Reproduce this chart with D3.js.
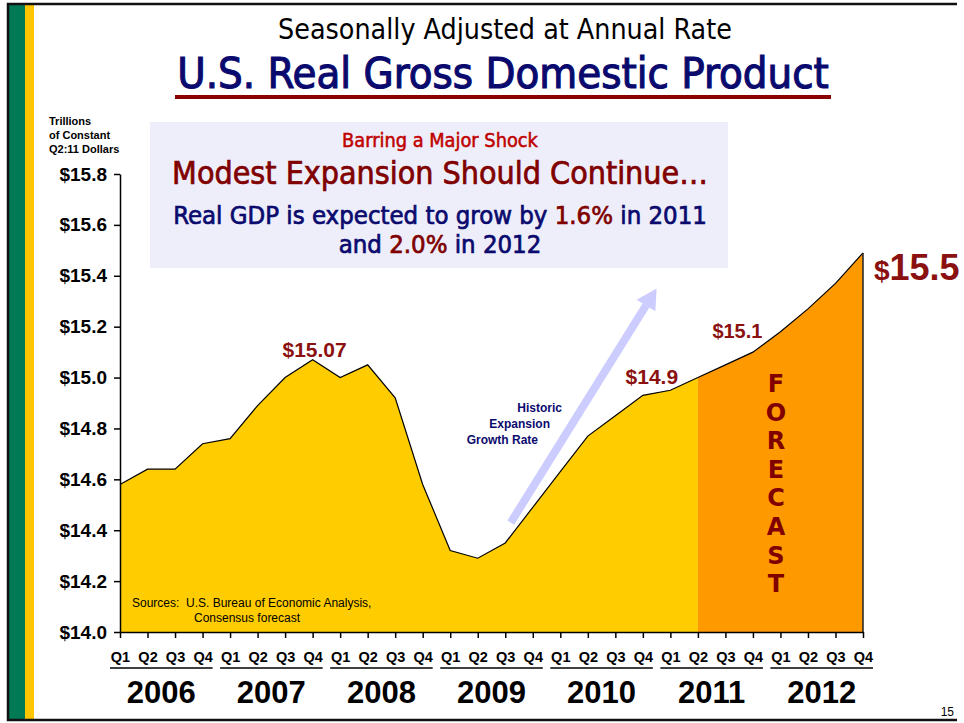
<!DOCTYPE html>
<html>
<head>
<meta charset="utf-8">
<script src="https://cdn.jsdelivr.net/npm/d3@7"></script>
<style>
  body { margin: 0; background: #fff; }
  svg { display: block; }
  .tick text { font-family: "Liberation Sans", Arial, sans-serif; font-weight: bold; fill: #000; }
</style>
</head>
<body>
<div id="wrapper"></div>
<script>

// ---- data ----
const years = ["2006", "2007", "2008", "2009", "2010", "2011", "2012"];
const quarters = ["Q1", "Q2", "Q3", "Q4"];
// real GDP, trillions of constant Q2:11 dollars, 2006 Q1 .. 2012 Q4
const gdp = [14.58, 14.64, 14.64, 14.74,
             14.76, 14.89, 15.00, 15.07,
             15.00, 15.05, 14.92, 14.58,
             14.32, 14.29, 14.35, 14.49,
             14.63, 14.77, 14.85, 14.93,
             14.95, 15.00, 15.05, 15.10,
             15.18, 15.27, 15.37, 15.49];
const forecastStart = 21; // 2011 Q2
const yTicks = [14.0, 14.2, 14.4, 14.6, 14.8, 15.0, 15.2, 15.4, 15.6, 15.8];
const callouts = ["$15.07", "$14.9", "$15.1", "$15.5"];

const W = 964, H = 723;
const navy = "#0a0a6e", darkRed = "#800000";

const svg = d3.select("#wrapper").append("svg")
  .attr("width", W).attr("height", H);

// ---- slide frame ----
svg.append("rect").attr("x", 9).attr("y", 5).attr("width", 16).attr("height", 714).attr("fill", "#007a55");
svg.append("rect").attr("x", 25).attr("y", 5).attr("width", 9).attr("height", 714).attr("fill", "#ffc600");
svg.append("path").attr("d", "M957,4 H8 V720 H957")
  .attr("fill", "none").attr("stroke", "#111").attr("stroke-width", 2.5);

// shrink/grow text so it spans a given width
function fit(sel, width) {
  const len = sel.node().getComputedTextLength();
  const fs = parseFloat(sel.attr("font-size"));
  sel.attr("font-size", fs * width / len);
}

// ---- titles ----
svg.append("text").attr("x", 505).attr("y", 39).attr("text-anchor", "middle")
  .attr("font-family", "DejaVu Sans Condensed, DejaVu Sans").attr("font-size", 24).attr("fill", "#000")
  .text("Seasonally Adjusted at Annual Rate").call(fit, 454);
svg.append("text").attr("x", 503).attr("y", 88).attr("text-anchor", "middle")
  .attr("font-family", "DejaVu Sans Condensed, DejaVu Sans").attr("font-size", 38).attr("fill", navy)
  .attr("stroke", navy).attr("stroke-width", 1.1)
  .text("U.S. Real Gross Domestic Product").call(fit, 652);
svg.append("rect").attr("x", 175).attr("y", 95).attr("width", 656).attr("height", 4).attr("fill", "#8b0000");

// ---- scales ----
const x = d3.scaleLinear().domain([0, gdp.length - 1]).range([120, 863]);
const y = d3.scaleLinear().domain([14.0, 15.8]).range([632, 174]);

// ---- areas ----
const area = d3.area().x(d => x(d.i)).y0(y(14)).y1(d => y(d.v));
const pts = gdp.map((v, i) => ({ i, v }));
svg.append("path").datum(pts.slice(0, forecastStart + 1)).attr("d", area).attr("fill", "#ffcc00");
svg.append("path").datum(pts.slice(forecastStart)).attr("d", area).attr("fill", "#ff9900");
svg.append("path").datum(pts).attr("d", d3.line().x(d => x(d.i)).y(d => y(d.v)))
  .attr("fill", "none").attr("stroke", "#000").attr("stroke-width", 1.2);
const last = pts[pts.length - 1];
svg.append("line").attr("x1", x(last.i)).attr("x2", x(last.i)).attr("y1", y(last.v)).attr("y2", y(14))
  .attr("stroke", "#222").attr("stroke-width", 1.5);

// ---- axes ----
const yAxis = svg.append("g").attr("transform", "translate(120,0)")
  .call(d3.axisLeft(y).tickValues(yTicks).tickSize(6).tickSizeOuter(0).tickPadding(7)
    .tickFormat(d => "$" + d.toFixed(1)));
yAxis.selectAll(".tick text").attr("font-size", 19);
yAxis.selectAll("line, path").attr("stroke", "#000").attr("stroke-width", 1.5);

const xAxis = svg.append("g").attr("transform", "translate(0,632)")
  .call(d3.axisBottom(x).tickValues(d3.range(gdp.length)).tickSize(6).tickSizeOuter(0).tickPadding(14)
    .tickFormat(i => quarters[i % 4]));
xAxis.selectAll(".tick text").attr("font-size", 14.5);
xAxis.selectAll("line, path").attr("stroke", "#000").attr("stroke-width", 1.5);

// year underline + labels
years.forEach((yr, k) => {
  const a = x(k * 4), b = x(k * 4 + 3);
  svg.append("line").attr("x1", a - 10).attr("x2", b + 10).attr("y1", 668).attr("y2", 668)
    .attr("stroke", "#000").attr("stroke-width", 1.5);
  svg.append("text").attr("x", (a + b) / 2).attr("y", 703).attr("text-anchor", "middle")
    .attr("font-family", "Liberation Sans, Arial").attr("font-weight", "bold").attr("font-size", 31)
    .text(yr);
});

// y unit label
["Trillions", "of Constant", "Q2:11 Dollars"].forEach((t, k) => {
  svg.append("text").attr("x", 49).attr("y", 125 + k * 14)
    .attr("font-family", "Liberation Sans, Arial").attr("font-weight", "bold").attr("font-size", 11)
    .text(t);
});

// ---- message box ----
svg.append("rect").attr("x", 150).attr("y", 122).attr("width", 578).attr("height", 146).attr("fill", "#eeeefb");
const boxFont = "DejaVu Sans Condensed, DejaVu Sans";
svg.append("text").attr("x", 440).attr("y", 147).attr("text-anchor", "middle")
  .attr("font-family", boxFont).attr("font-size", 20).attr("fill", "#c00000")
  .attr("stroke", "#c00000").attr("stroke-width", 0.5)
  .text("Barring a Major Shock").call(fit, 196);
svg.append("text").attr("x", 440).attr("y", 184).attr("text-anchor", "middle")
  .attr("font-family", boxFont).attr("font-size", 28).attr("fill", darkRed)
  .attr("stroke", darkRed).attr("stroke-width", 0.7)
  .text("Modest Expansion Should Continue…").call(fit, 536);
const l3 = svg.append("text").attr("x", 440).attr("y", 224).attr("text-anchor", "middle")
  .attr("font-family", boxFont).attr("font-size", 22).attr("fill", navy)
  .attr("stroke", navy).attr("stroke-width", 0.7);
l3.append("tspan").text("Real GDP is expected to grow by ");
l3.append("tspan").attr("fill", darkRed).attr("stroke", darkRed).text("1.6%");
l3.append("tspan").text(" in 2011");
l3.call(fit, 534);
const l4 = svg.append("text").attr("x", 440).attr("y", 253).attr("text-anchor", "middle")
  .attr("font-family", boxFont).attr("font-size", +l3.attr("font-size")).attr("fill", navy)
  .attr("stroke", navy).attr("stroke-width", 0.7);
l4.append("tspan").text("and ");
l4.append("tspan").attr("fill", darkRed).attr("stroke", darkRed).text("2.0%");
l4.append("tspan").text(" in 2012");

// ---- historic growth arrow ----
const ax0 = x(14.2), ay0 = y(14.43), ax1 = x(19.5), ay1 = y(15.35);
const ang = Math.atan2(ay1 - ay0, ax1 - ax0);
const headL = 20, headW = 11;
const bx = ax1 - headL * Math.cos(ang), by = ay1 - headL * Math.sin(ang);
svg.append("line").attr("x1", ax0).attr("y1", ay0).attr("x2", bx).attr("y2", by)
  .attr("stroke", "#ccccff").attr("stroke-width", 8);
svg.append("polygon").attr("fill", "#ccccff").attr("points", [
  [ax1, ay1],
  [bx + headW * Math.sin(ang), by - headW * Math.cos(ang)],
  [bx - headW * Math.sin(ang), by + headW * Math.cos(ang)]
].map(p => p.join(",")).join(" "));
["Historic", "Expansion", "Growth Rate"].forEach((t, k) => {
  svg.append("text").attr("x", 562 - k * 12).attr("y", 412 + k * 16).attr("text-anchor", "end")
    .attr("font-family", "Liberation Sans, Arial").attr("font-weight", "bold").attr("font-size", 12)
    .attr("fill", navy).text(t);
});

// ---- callouts ----
const cl = (t, cx, cy, fs, anchor) => svg.append("text").attr("x", cx).attr("y", cy)
  .attr("text-anchor", anchor || "middle").attr("font-family", "Liberation Sans, Arial")
  .attr("font-weight", "bold").attr("font-size", fs).attr("fill", "#8b1010").text(t);
cl(callouts[0], x(7) + 2, y(gdp[7]) - 3, 21);
cl(callouts[1], x(19) + 9, y(gdp[19]) - 11, 21);
cl(callouts[2], x(22) + 12, y(gdp[22]) - 27, 20);
const big = svg.append("text").attr("x", x(27) + 11).attr("y", y(gdp[27]) + 27)
  .attr("font-family", "Liberation Sans, Arial").attr("font-weight", "bold").attr("fill", "#8b1010");
big.append("tspan").attr("font-size", 28).text(callouts[3].slice(0, 1));
big.append("tspan").attr("font-size", 36).text(callouts[3].slice(1));

// ---- FORECAST ----
"FORECAST".split("").forEach((c, k) => {
  svg.append("text").attr("x", 776).attr("y", 392 + k * 28.6).attr("text-anchor", "middle")
    .attr("font-family", "DejaVu Sans").attr("font-weight", "bold").attr("font-size", 24)
    .attr("fill", darkRed).text(c);
});

// ---- sources / page ----
svg.append("text").attr("x", 132).attr("y", 607).attr("font-family", "Liberation Sans, Arial").attr("font-size", 12)
  .attr("xml:space", "preserve").text("Sources:  U.S. Bureau of Economic Analysis,");
svg.append("text").attr("x", 194).attr("y", 622).attr("font-family", "Liberation Sans, Arial").attr("font-size", 12)
  .text("Consensus forecast");
svg.append("text").attr("x", 954).attr("y", 716).attr("text-anchor", "end")
  .attr("font-family", "Liberation Sans, Arial").attr("font-size", 12).text("15");

</script>
</body>
</html>
